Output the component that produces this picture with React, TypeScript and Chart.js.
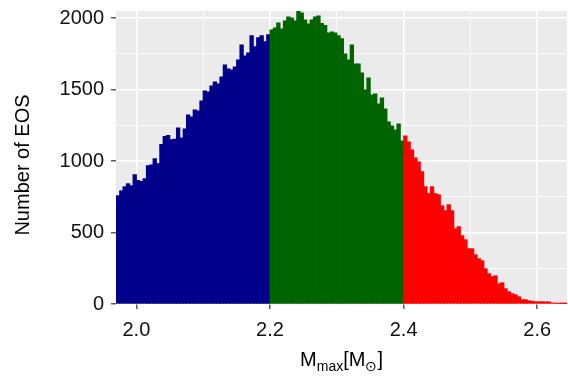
import React, { useEffect, useRef } from 'react';
import { Chart, registerables } from 'chart.js';

Chart.register(...registerables);

// Histogram bins (width 0.005 in M_max)
const binWidth = 0.005;
const blueStart = 1.97;
const blueCounts = [
  757, 792, 820, 841, 827, 904, 864, 857, 876, 967,
  972, 1016, 981, 1116, 1172, 1179, 1150, 1153, 1232, 1162,
  1225, 1323, 1309, 1358, 1351, 1421, 1491, 1484, 1526, 1554,
  1540, 1589, 1673, 1645, 1638, 1659, 1708, 1812, 1736, 1757,
  1876, 1799, 1862, 1876, 1834, 1883,
];
const greenStart = 2.2;
const greenCounts = [
  1917, 1931, 1966, 1924, 1980, 2008, 2001, 1980, 2050, 2036,
  1987, 1959, 1987, 2008, 2015, 1962, 1948, 1896, 1903, 1896,
  1876, 1855, 1750, 1708, 1812, 1680, 1680, 1617, 1498, 1582,
  1463, 1470, 1400, 1442, 1365, 1274, 1246, 1218, 1260, 1141,
];
const redStart = 2.4;
const redCounts = [
  1176, 1134, 1078, 1022, 994, 925, 820, 771, 820, 771,
  764, 687, 652, 694, 652, 526, 540, 477, 449, 386,
  386, 344, 316, 302, 246, 211, 190, 197, 141, 148,
  106, 85, 71, 64, 50, 30, 29, 22, 18, 15,
  15, 15, 14, 14, 6, 5, 5, 4, 2,
];

const xMajorTicks = [2.0, 2.2, 2.4, 2.6];
const xMinorTicks = [2.1, 2.3, 2.5];
const yMajorTicks = [0, 500, 1000, 1500, 2000];
const yMinorTicks = [250, 750, 1250, 1750];

const yTitleText = 'Number of EOS';

const blueColor = '#00008B';
const greenColor = '#006400';
const redColor = '#FF0000';

const FONT = '"Liberation Sans", Arial, Helvetica, sans-serif';

export default function App() {
  const ref = useRef<HTMLCanvasElement | null>(null);

  useEffect(() => {
    document.body.style.margin = '0';
    const canvas = ref.current;
    if (!canvas) return;

    const points: { x: number; y: number }[] = [];
    const colors: string[] = [];
    const addGroup = (start: number, counts: number[], color: string) => {
      counts.forEach((c, i) => {
        points.push({ x: start + (i + 0.5) * binWidth, y: c });
        colors.push(color);
      });
    };
    addGroup(blueStart, blueCounts, blueColor);
    addGroup(greenStart, greenCounts, greenColor);
    addGroup(redStart, redCounts, redColor);

    const isXMajor = (v: number) => xMajorTicks.some((t) => Math.abs(t - v) < 1e-6);
    const isYMajor = (v: number) => yMajorTicks.includes(Math.round(v));

    const panelBg = {
      id: 'panelBg',
      beforeDraw(chart: any) {
        const { ctx, chartArea } = chart;
        ctx.save();
        ctx.fillStyle = '#EBEBEB';
        ctx.fillRect(chartArea.left, chartArea.top, chartArea.right - chartArea.left, chartArea.bottom - chartArea.top);
        ctx.restore();
      },
    };

    const titles = {
      id: 'titles',
      afterDraw(chart: any) {
        const { ctx, chartArea } = chart;
        const big = `20px ${FONT}`;
        const small = `14px ${FONT}`;
        const parts: [string, string, number][] = [
          ['M', big, 0],
          ['max', small, 5],
          ['[M', big, 0],
          ['\u2299', small, 5],
          [']', big, 0],
        ];
        ctx.save();
        ctx.fillStyle = '#000';
        ctx.textBaseline = 'alphabetic';
        ctx.textAlign = 'left';
        let total = 0;
        const widths = parts.map(([t, f]) => {
          ctx.font = f;
          const w = ctx.measureText(t).width;
          total += w;
          return w;
        });
        let x = (chartArea.left + chartArea.right) / 2 - total / 2;
        const baseY = 366;
        parts.forEach(([t, f, dy], i) => {
          ctx.font = f;
          ctx.fillText(t, x, baseY + dy);
          x += widths[i];
        });
        ctx.restore();

        // y-axis title
        ctx.save();
        ctx.translate(23, 165);
        ctx.rotate(-Math.PI / 2);
        ctx.font = big;
        ctx.fillStyle = '#000';
        ctx.textAlign = 'center';
        ctx.textBaseline = 'middle';
        ctx.fillText(yTitleText, 0, 0);
        ctx.restore();
      },
    };

    const chart = new Chart(canvas, {
      type: 'bar',
      data: {
        datasets: [
          {
            data: points as any,
            backgroundColor: colors,
            borderWidth: 0,
            barPercentage: 1,
            categoryPercentage: 1,
            inflateAmount: 0.5,
          } as any,
        ],
      },
      options: {
        responsive: false,
        animation: false,
        events: [],
        layout: { autoPadding: false, padding: { top: 11, right: 1, left: 0, bottom: 0 } } as any,
        plugins: {
          legend: { display: false },
          tooltip: { enabled: false },
        },
        scales: {
          x: {
            type: 'linear',
            min: 1.9695,
            max: 2.6445,
            offset: false,
            afterBuildTicks(scale: any) {
              scale.ticks = [...xMajorTicks, ...xMinorTicks].sort((a, b) => a - b).map((v) => ({ value: v }));
            },
            afterFit(scale: any) {
              scale.height = 75;
              scale.paddingLeft = 0;
              scale.paddingRight = 0;
            },
            ticks: {
              autoSkip: false,
              maxRotation: 0,
              padding: 9,
              color: '#111',
              font: { family: FONT, size: 20 },
              callback: (v: any) => (isXMajor(Number(v)) ? Number(v).toFixed(1) : ''),
            },
            grid: {
              offset: false,
              color: '#FFFFFF',
              lineWidth: (ctx: any) => (ctx.tick && isXMajor(ctx.tick.value) ? 1.6 : 0.8),
              drawTicks: true,
              tickLength: 5,
              tickWidth: 1.2,
              tickColor: (ctx: any) => (ctx.tick && isXMajor(ctx.tick.value) ? '#333333' : 'rgba(0,0,0,0)'),
            },
            border: { display: false },
            title: { display: false },
          },
          y: {
            type: 'linear',
            min: 0,
            max: 2050,
            afterBuildTicks(scale: any) {
              scale.ticks = [...yMajorTicks, ...yMinorTicks].sort((a, b) => a - b).map((v) => ({ value: v }));
            },
            afterFit(scale: any) {
              scale.width = 116;
              scale.paddingTop = 0;
              scale.paddingBottom = 0;
            },
            ticks: {
              autoSkip: false,
              padding: 7,
              color: '#111',
              font: { family: FONT, size: 20 },
              callback: (v: any) => (isYMajor(Number(v)) ? String(Math.round(Number(v))) : ''),
            },
            grid: {
              color: '#FFFFFF',
              lineWidth: (ctx: any) => (ctx.tick && isYMajor(ctx.tick.value) ? 1.6 : 0.8),
              drawTicks: true,
              tickLength: 5,
              tickWidth: 1.2,
              tickColor: (ctx: any) => (ctx.tick && isYMajor(ctx.tick.value) ? '#333333' : 'rgba(0,0,0,0)'),
            },
            border: { display: false },
            title: { display: false },
          },
        },
      },
      plugins: [panelBg, titles],
    });

    return () => chart.destroy();
  }, []);

  return (
    <div style={{ width: 568, height: 379 }}>
      <canvas ref={ref} width={568} height={379} style={{ display: 'block' }} />
    </div>
  );
}
